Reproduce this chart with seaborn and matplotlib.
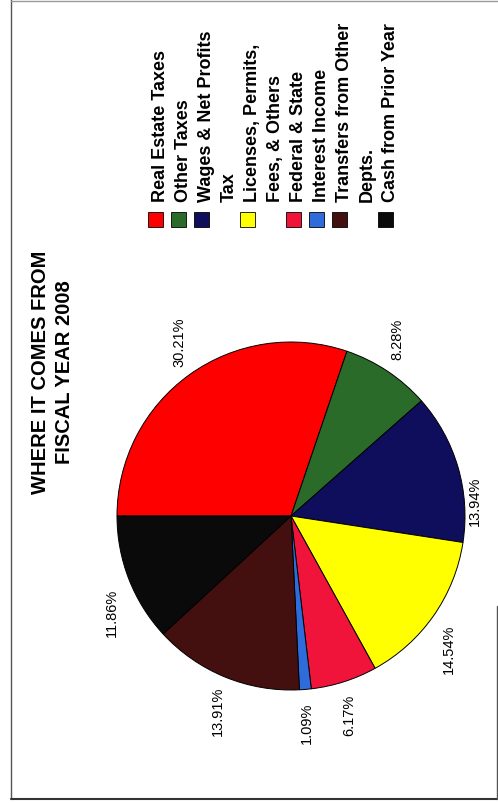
import numpy as np
import matplotlib
matplotlib.use("Agg")
import matplotlib.pyplot as plt
from matplotlib.patches import Rectangle
from matplotlib.lines import Line2D
import seaborn as sns

# Revenue sources, fiscal year 2008 (percent of total)
categories = [
    "Real Estate Taxes",
    "Other Taxes",
    "Wages & Net Profits\nTax",
    "Licenses, Permits,\nFees, & Others",
    "Federal & State",
    "Interest Income",
    "Transfers from Other\nDepts.",
    "Cash from Prior Year",
]
shares = [30.21, 8.28, 13.94, 14.54, 6.17, 1.09, 13.91, 11.86]
slice_colors = ["#FF0000", "#2A6B2A", "#0E0E5C", "#FFFF00",
                "#F0143A", "#2F6CDB", "#43100F", "#0A0A0A"]
title_lines = ["WHERE IT COMES FROM", "FISCAL YEAR 2008"]

sns.set_theme(style="white")
plt.rcParams["font.family"] = ["Liberation Sans", "DejaVu Sans"]

W, H = 498, 804
fig = plt.figure(figsize=(W / 100, H / 100), dpi=100)
fig.patch.set_facecolor("white")


def fx(px):
    return px / W


def fy(py):
    # py is measured from the top edge
    return 1 - py / H


# Pie axes: square in pixels so the pie stays round
R_PX = 174
CX, CY = 291, 517
LIM = 1.32
side = 2 * LIM * R_PX
ax = fig.add_axes([fx(CX - side / 2), fy(CY + side / 2), side / W, side / H])

palette = sns.color_palette(slice_colors)
wedges, _ = ax.pie(shares, colors=palette, startangle=180, counterclock=False,
                   radius=1, wedgeprops=dict(edgecolor="black", linewidth=0.7))
ax.set_xlim(-LIM, LIM)
ax.set_ylim(-LIM, LIM)
ax.axis("off")

# Percentage labels outside each wedge, turned sideways.  Each label sits
# at the rim along the wedge's mid-angle, nudged outward across the text
# and shifted along the text (up or down) depending on which side of a
# tilted split line the wedge falls.
total = float(np.sum(shares))
starts = np.concatenate([[0.0], np.cumsum(shares)[:-1]])
ACROSS = 18 / R_PX
ALONG = 33 / R_PX
for v, c0 in zip(shares, starts):
    theta = 180 - 360 * (c0 + v / 2) / total
    t = np.deg2rad(theta)
    ux, uy = np.cos(t), np.sin(t)
    side_sign = 1.0 if np.cos(np.deg2rad(theta - 110)) > 0 else -1.0
    lx = ux + ACROSS * ux
    ly = uy + ALONG * side_sign
    ax.text(lx, ly, f"{v:.2f}%", rotation=90, ha="center", va="center",
            fontsize=10.5, color="black")

# Legend: swatches with sideways bold labels
LEG_BASE_X = 165
LEG_TEXT_Y = 202
LINE = 23
SW = 15
line_idx = 0
for label, col in zip(categories, palette):
    lines = label.split("\n")
    base = LEG_BASE_X + LINE * line_idx
    sw_cx = base - 10
    fig.add_artist(Rectangle((fx(sw_cx - SW / 2), fy(228)), SW / W, SW / H,
                             transform=fig.transFigure, facecolor=col,
                             edgecolor="black", linewidth=0.6))
    for k, ln in enumerate(lines):
        fig.text(fx(base + LINE * k), fy(LEG_TEXT_Y), ln, rotation=90,
                 rotation_mode="anchor", ha="left", va="baseline",
                 fontsize=13, fontweight="bold", color="black")
    line_idx += len(lines)

# Title, two sideways lines
for k, t in enumerate(title_lines):
    fig.text(fx(46 + 24 * k), fy(372), t, rotation=90, rotation_mode="anchor",
             ha="center", va="baseline", fontsize=14.5, fontweight="bold",
             color="black")

# Page frame
fig.add_artist(Line2D([fx(11), fx(11)], [fy(0), fy(800)],
                      transform=fig.transFigure, color="#555555", lw=1))
fig.add_artist(Line2D([fx(11), fx(498)], [fy(1.5), fy(1.5)],
                      transform=fig.transFigure, color="#999999", lw=1))
fig.add_artist(Line2D([fx(11), fx(497)], [fy(800), fy(800)],
                      transform=fig.transFigure, color="#333333", lw=1.5))
fig.add_artist(Line2D([fx(497), fx(497)], [fy(607), fy(800)],
                      transform=fig.transFigure, color="#555555", lw=1))

fig.savefig("out.png", dpi=100, facecolor="white")
